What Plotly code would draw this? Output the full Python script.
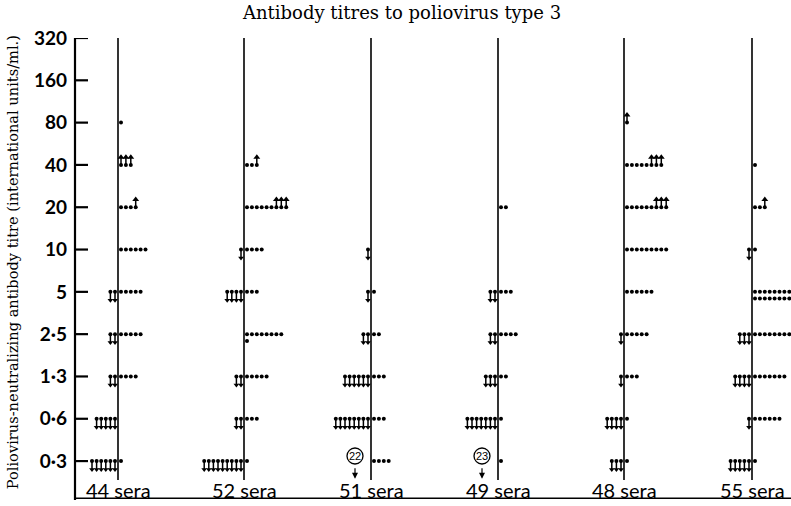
import plotly.graph_objects as go

# ---------------- data ----------------
level_labels = ["0·3", "0·6", "1·3", "2·5", "5", "10", "20", "40", "80", "160", "320"]
group_labels = ["44 sera", "52 sera", "51 sera", "49 sera", "48 sera", "55 sera"]

# counts per titre level (index 0 = 0·3 ... 10 = 320)
below_counts = [  # "less than" sera, drawn left of the line with down arrows
    [6, 5, 2, 2, 2, 0, 0, 0, 0, 0, 0],
    [9, 2, 2, 0, 4, 1, 0, 0, 0, 0, 0],
    [0, 8, 6, 2, 1, 1, 0, 0, 0, 0, 0],
    [0, 7, 3, 2, 2, 0, 0, 0, 0, 0, 0],
    [3, 4, 1, 1, 0, 0, 0, 0, 0, 0, 0],
    [5, 1, 4, 3, 0, 1, 0, 0, 0, 0, 0],
]
dot_counts = [  # sera with an exact titre, right of the line
    [1, 0, 4, 5, 5, 6, 3, 0, 1, 0, 0],
    [1, 3, 5, 8, 3, 4, 6, 2, 0, 0, 0],
    [4, 3, 3, 2, 1, 0, 0, 0, 0, 0, 0],
    [1, 1, 2, 4, 3, 0, 2, 0, 0, 0, 0],
    [1, 1, 3, 5, 6, 9, 6, 5, 0, 0, 0],
    [1, 6, 7, 8, 8, 1, 2, 1, 0, 0, 0],
]
dot_counts_row2 = [  # second (lower) row of dots
    [0, 0, 0, 0, 0, 0, 0, 0, 0, 0, 0],
    [0, 0, 0, 1, 0, 0, 0, 0, 0, 0, 0],
    [0, 0, 0, 0, 0, 0, 0, 0, 0, 0, 0],
    [0, 0, 0, 0, 0, 0, 0, 0, 0, 0, 0],
    [0, 0, 0, 0, 0, 0, 0, 0, 0, 0, 0],
    [0, 0, 0, 0, 8, 0, 0, 0, 0, 0, 0],
]
above_counts = [  # "greater than" sera, up arrows right of the dots
    [0, 0, 0, 0, 0, 0, 1, 3, 0, 0, 0],
    [0, 0, 0, 0, 0, 0, 3, 1, 0, 0, 0],
    [0, 0, 0, 0, 0, 0, 0, 0, 0, 0, 0],
    [0, 0, 0, 0, 0, 0, 0, 0, 0, 0, 0],
    [0, 0, 0, 0, 0, 0, 3, 3, 1, 0, 0],
    [0, 0, 0, 0, 0, 0, 1, 0, 0, 0, 0],
]
circled_below_lowest = [None, None, 22, 23, None, None]

# ---------------- layout constants ----------------
W, H = 791, 506
ML, MR, MT, MB = 68, 0, 38, 6
AXIS_X = 75          # where the titre axis line sits (pixel == x data unit)
TICK_LEN = 13
group_x = [118, 244, 371, 498, 624, 752]
dx_dot = 4.9
dx_arrow = 4.6
y_lo, y_hi = -0.92, 10

fig = go.Figure()

# titre axis line and its inward ticks, as a line trace
ax_x = [AXIS_X, AXIS_X, None]
ax_y = [y_hi, y_lo, None]
for lv in range(len(level_labels)):
    ax_x += [AXIS_X, AXIS_X + TICK_LEN, None]
    ax_y += [lv, lv, None]
fig.add_trace(go.Scatter(x=ax_x, y=ax_y, mode="lines",
                         line=dict(color="black", width=2.2),
                         hoverinfo="skip", showlegend=False))

dxs, dys = [], []
axs, ays = [], []
ux, uy = [], []
for g, cx in enumerate(group_x):
    for lv in range(len(level_labels)):
        n = dot_counts[g][lv]
        for k in range(n):
            dxs.append(cx + 3 + k * dx_dot)
            dys.append(lv)
        for k in range(dot_counts_row2[g][lv]):
            dxs.append(cx + 3 + k * dx_dot)
            dys.append(lv - 0.16)
        for k in range(above_counts[g][lv]):
            ux.append(cx + 3 + (n + k) * dx_dot)
            uy.append(lv)
        for k in range(below_counts[g][lv]):
            axs.append(cx - 3 - k * dx_arrow)
            ays.append(lv)

# dots
fig.add_trace(go.Scatter(x=dxs, y=dys, mode="markers",
                         marker=dict(symbol="circle", size=4, color="black"),
                         hoverinfo="skip", showlegend=False))
# down arrows: dot + stem + head
fig.add_trace(go.Scatter(x=axs, y=ays, mode="markers",
                         marker=dict(symbol="circle", size=4, color="black"),
                         hoverinfo="skip", showlegend=False))
fig.add_trace(go.Scatter(x=axs, y=[v - 0.1 for v in ays], mode="markers",
                         marker=dict(symbol="line-ns", size=7, color="black",
                                     line=dict(width=1.5, color="black")),
                         hoverinfo="skip", showlegend=False))
fig.add_trace(go.Scatter(x=axs, y=[v - 0.2 for v in ays], mode="markers",
                         marker=dict(symbol="triangle-down", size=5, color="black"),
                         hoverinfo="skip", showlegend=False))
# up arrows
fig.add_trace(go.Scatter(x=ux, y=uy, mode="markers",
                         marker=dict(symbol="circle", size=4, color="black"),
                         hoverinfo="skip", showlegend=False))
fig.add_trace(go.Scatter(x=ux, y=[v + 0.1 for v in uy], mode="markers",
                         marker=dict(symbol="line-ns", size=7, color="black",
                                     line=dict(width=1.5, color="black")),
                         hoverinfo="skip", showlegend=False))
fig.add_trace(go.Scatter(x=ux, y=[v + 0.18 for v in uy], mode="markers",
                         marker=dict(symbol="triangle-up", size=6, color="black"),
                         hoverinfo="skip", showlegend=False))

shapes = []
annotations = []
lvl_px = (H - MT - MB) / (y_hi - y_lo)
# bottom rule
shapes.append(dict(type="line", xref="x", yref="paper", x0=AXIS_X, x1=W, y0=0.004, y1=0.004,
                   line=dict(color="black", width=1.5)))
for g, cx in enumerate(group_x):
    shapes.append(dict(type="line", xref="x", yref="y", x0=cx, x1=cx,
                       y0=y_hi, y1=-0.45, line=dict(color="black", width=1.6)))
    annotations.append(dict(x=cx, y=-0.68, xref="x", yref="y", text=group_labels[g],
                            showarrow=False, xanchor="center", yanchor="middle",
                            font=dict(family="Lato", size=20, color="black")))
    c = circled_below_lowest[g]
    if c is not None:
        ccx = cx - 16
        ccy = 0.12
        r = 8
        shapes.append(dict(type="circle", xref="x", yref="y",
                           x0=ccx - r, x1=ccx + r,
                           y0=ccy - r / lvl_px, y1=ccy + r / lvl_px,
                           line=dict(color="black", width=1.3)))
        annotations.append(dict(x=ccx, y=ccy, xref="x", yref="y", text=str(c),
                                showarrow=False,
                                font=dict(family="Liberation Sans", size=11, color="black")))
        annotations.append(dict(x=ccx, y=-0.42, xref="x", yref="y", text="",
                                showarrow=True, arrowhead=2, arrowsize=1, arrowwidth=1.2,
                                arrowcolor="black", ax=0, ay=-12))

annotations.append(dict(x=(12 - ML) / (W - ML - MR), y=4.7, xref="paper", yref="y",
                        text="Poliovirus-neutralizing antibody titre (international units/ml.)",
                        textangle=-90, showarrow=False, xanchor="center", yanchor="middle",
                        font=dict(family="DejaVu Serif", size=14.6, color="black")))
annotations.append(dict(x=(401 - ML) / (W - ML - MR), y=1.0, xref="paper", yref="paper",
                        yshift=26, text="Antibody titres to poliovirus type 3",
                        showarrow=False, xanchor="center", yanchor="middle",
                        font=dict(family="DejaVu Serif", size=18, color="black")))

fig.update_layout(
    width=W, height=H,
    margin=dict(l=ML, r=MR, t=MT, b=MB),
    paper_bgcolor="white", plot_bgcolor="white",
    shapes=shapes, annotations=annotations,
    xaxis=dict(range=[ML, W - MR], showgrid=False, zeroline=False,
               showticklabels=False, ticks="", showline=False, fixedrange=True),
    yaxis=dict(range=[y_lo, y_hi], showgrid=False, zeroline=False,
               tickvals=list(range(len(level_labels))), ticktext=level_labels,
               ticks="", showline=False, automargin=False,
               ticklabelstandoff=0,
               tickfont=dict(family="Lato", size=19, color="black", weight="bold"),
               fixedrange=True),
)

fig.write_html("out.html", config={"displayModeBar": False},
               post_script="document.body.style.margin='0';document.body.style.padding='0';")
